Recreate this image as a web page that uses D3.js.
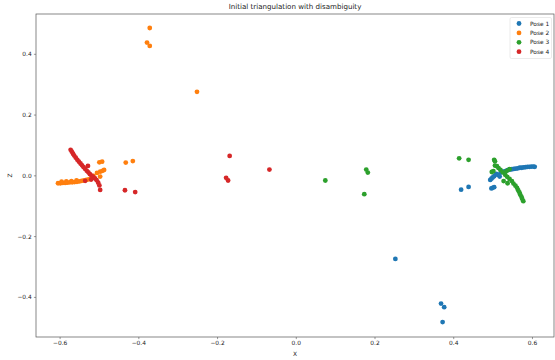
<!DOCTYPE html>
<html>
<head>
<meta charset="utf-8">
<script src="https://cdn.jsdelivr.net/npm/d3@7"></script>
<style>
  body { margin: 0; background: #fff; }
  svg { display: block; font-family: "DejaVu Sans", sans-serif; }
</style>
</head>
<body>
<div id="chart"></div>
<script>
// scatter values, [x, z]
const pose1 = [
  [0.494, -0.015], [0.497, -0.011], [0.500, -0.007], [0.504, -0.003], [0.509, 0.005],
  [0.513, 0.002], [0.518, -0.004], [0.521, 0.009], [0.526, 0.012],
  [0.500, -0.041], [0.504, -0.039], [0.497, -0.043],
  [0.532, 0.014], [0.538, 0.017], [0.544, 0.019], [0.549, 0.020], [0.554, 0.021],
  [0.559, 0.022], [0.564, 0.023], [0.569, 0.025], [0.574, 0.025], [0.579, 0.026],
  [0.584, 0.027], [0.589, 0.028], [0.594, 0.028], [0.599, 0.029], [0.604, 0.029], [0.607, 0.028],
  [0.420, -0.047], [0.439, -0.038], [0.253, -0.275],
  [0.369, -0.422], [0.377, -0.434], [0.373, -0.483]
];
const pose2 = [
  [-0.371, 0.485], [-0.378, 0.437], [-0.371, 0.426], [-0.251, 0.275],
  [-0.432, 0.042], [-0.414, 0.047],
  [-0.499, 0.043], [-0.492, 0.045], [-0.497, 0.012], [-0.491, 0.015], [-0.487, 0.018],
  [-0.497, -0.004], [-0.514, -0.002], [-0.505, 0.008],
  [-0.604, -0.026], [-0.598, -0.026], [-0.592, -0.025], [-0.586, -0.025], [-0.580, -0.024],
  [-0.574, -0.023], [-0.568, -0.023], [-0.562, -0.022], [-0.556, -0.021], [-0.550, -0.020],
  [-0.544, -0.018], [-0.538, -0.017], [-0.532, -0.015], [-0.526, -0.013], [-0.520, -0.012],
  [-0.595, -0.021], [-0.583, -0.020], [-0.570, -0.019], [-0.557, -0.017]
];
const pose3 = [
  [0.504, 0.051], [0.506, 0.046], [0.506, 0.032], [0.511, 0.030], [0.498, 0.011],
  [0.502, 0.014], [0.536, 0.015], [0.543, 0.020], [0.528, -0.019], [0.538, -0.026],
  [0.515, 0.024], [0.520, 0.018], [0.526, 0.010], [0.532, 0.002], [0.537, -0.005],
  [0.543, -0.012], [0.549, -0.019], [0.553, -0.027], [0.558, -0.034], [0.562, -0.041],
  [0.565, -0.049], [0.568, -0.056], [0.570, -0.063], [0.573, -0.070], [0.575, -0.077], [0.578, -0.085],
  [0.075, -0.017], [0.179, 0.019], [0.183, 0.009], [0.174, -0.062],
  [0.415, 0.056], [0.439, 0.051]
];
const pose4 = [
  [-0.572, 0.084], [-0.569, 0.078], [-0.566, 0.071], [-0.563, 0.065], [-0.559, 0.058],
  [-0.555, 0.051], [-0.551, 0.045], [-0.547, 0.039], [-0.543, 0.033], [-0.539, 0.027],
  [-0.535, 0.021], [-0.531, 0.015], [-0.527, 0.010], [-0.523, 0.004], [-0.519, -0.001],
  [-0.515, -0.005], [-0.510, -0.010], [-0.506, -0.016], [-0.502, -0.024], [-0.499, -0.033],
  [-0.497, -0.048],
  [-0.528, 0.031], [-0.535, -0.018], [-0.520, -0.014],
  [-0.434, -0.049], [-0.408, -0.055],
  [-0.168, 0.064], [-0.177, -0.008], [-0.172, -0.017], [-0.067, 0.019]
];

const seriesNames = ["Pose 1", "Pose 2", "Pose 3", "Pose 4"];
const seriesData = [pose1, pose2, pose3, pose4];
const xTicks = [-0.6, -0.4, -0.2, 0.0, 0.2, 0.4, 0.6];
const zTicks = [-0.4, -0.2, 0.0, 0.2, 0.4];

const colors = ["#1f77b4", "#ff7f0e", "#2ca02c", "#d62728"];

const width = 555, height = 360;
const margin = { top: 14, right: 1, bottom: 23, left: 36 };

const svg = d3.select("#chart").append("svg")
    .attr("width", width)
    .attr("height", height);

const x = d3.scaleLinear()
    .domain([-0.66, 0.656])
    .range([margin.left, width - margin.right]);

const y = d3.scaleLinear()
    .domain([-0.532, 0.531])
    .range([height - margin.bottom, margin.top]);

const fmt = d3.format(".1f");

const xAxis = g => g
    .attr("transform", `translate(0,${height - margin.bottom})`)
    .call(d3.axisBottom(x).tickValues(xTicks).tickFormat(fmt).tickSize(2.1).tickPadding(2.2).tickSizeOuter(0))
    .call(g => g.select(".domain").remove())
    .call(g => g.selectAll(".tick line").attr("stroke", "#333").attr("stroke-width", 0.5))
    .call(g => g.selectAll(".tick text").attr("font-size", 5.9).attr("fill", "#222").attr("font-family", "DejaVu Sans"));

const yAxis = g => g
    .attr("transform", `translate(${margin.left},0)`)
    .call(d3.axisLeft(y).tickValues(zTicks).tickFormat(fmt).tickSize(2.1).tickPadding(2.2).tickSizeOuter(0))
    .call(g => g.select(".domain").remove())
    .call(g => g.selectAll(".tick line").attr("stroke", "#333").attr("stroke-width", 0.5))
    .call(g => g.selectAll(".tick text").attr("font-size", 5.9).attr("fill", "#222").attr("font-family", "DejaVu Sans"));

svg.append("g").call(xAxis);
svg.append("g").call(yAxis);

// points, drawn in series order like matplotlib
seriesData.forEach((pts, i) => {
  svg.append("g")
    .selectAll("circle")
    .data(pts)
    .join("circle")
      .attr("cx", d => x(d[0]))
      .attr("cy", d => y(d[1]))
      .attr("r", 2.4)
      .attr("fill", colors[i]);
});

// frame
svg.append("rect")
    .attr("x", margin.left)
    .attr("y", margin.top)
    .attr("width", width - margin.left - margin.right)
    .attr("height", height - margin.top - margin.bottom)
    .attr("fill", "none")
    .attr("stroke", "#555")
    .attr("stroke-width", 0.7);

// title + axis labels
svg.append("text")
    .attr("x", (margin.left + width - margin.right) / 2)
    .attr("y", 9)
    .attr("text-anchor", "middle")
    .attr("font-size", 7.1)
    .attr("fill", "#222")
    .text("Initial triangulation with disambiguity");

svg.append("text")
    .attr("x", (margin.left + width - margin.right) / 2)
    .attr("y", 355.5)
    .attr("text-anchor", "middle")
    .attr("font-size", 5.9)
    .attr("fill", "#222")
    .text("X");

svg.append("text")
    .attr("transform", `translate(11.5,${(margin.top + height - margin.bottom) / 2}) rotate(-90)`)
    .attr("text-anchor", "middle")
    .attr("font-size", 5.9)
    .attr("fill", "#222")
    .text("Z");

// legend
const legend = svg.append("g").attr("transform", "translate(510,17.5)");
legend.append("rect")
    .attr("width", 41.5)
    .attr("height", 41)
    .attr("rx", 1.5)
    .attr("fill", "#fff")
    .attr("fill-opacity", 0.8)
    .attr("stroke", "#d6d6d6")
    .attr("stroke-width", 0.5);

seriesNames.forEach((name, i) => {
  const row = legend.append("g").attr("transform", `translate(0,${6 + i * 9.4})`);
  row.append("circle")
      .attr("cx", 9)
      .attr("cy", 0)
      .attr("r", 2.4)
      .attr("fill", colors[i]);
  row.append("text")
      .attr("x", 20)
      .attr("y", 2.1)
      .attr("font-size", 5.9)
      .attr("fill", "#222")
      .text(name);
});
</script>
</body>
</html>
